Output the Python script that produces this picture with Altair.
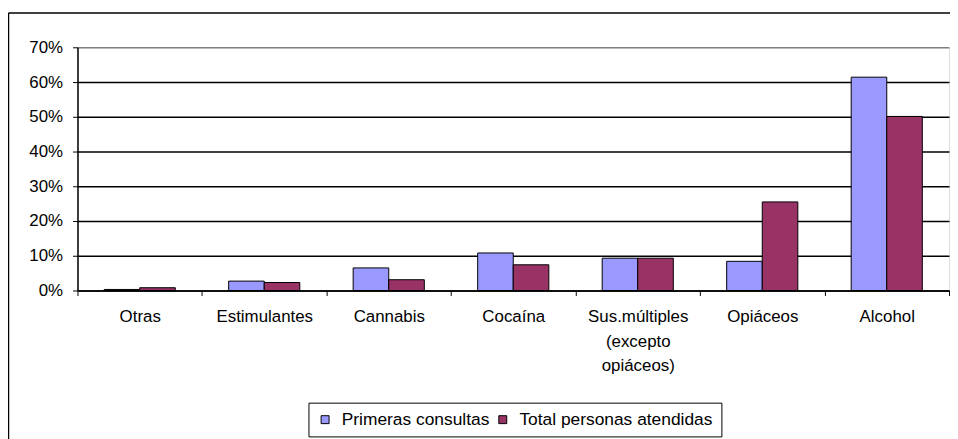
import altair as alt
import pandas as pd

categories = ["Otras", "Estimulantes", "Cannabis", "Cocaína",
              "Sus.múltiples (excepto opiáceos)", "Opiáceos", "Alcohol"]
series = ["Primeras consultas", "Total personas atendidas"]
primeras = [0.3, 2.7, 6.5, 10.8, 9.3, 8.4, 61.4]
total = [0.8, 2.3, 3.1, 7.4, 9.3, 25.5, 50.1]
y_ticks = [0, 10, 20, 30, 40, 50, 60, 70]
colors = ["#9999FF", "#993366"]

rows = []
for c, p, t in zip(categories, primeras, total):
    rows.append({"Categoria": c, "Serie": series[0], "Valor": p})
    rows.append({"Categoria": c, "Serie": series[1], "Valor": t})
df = pd.DataFrame(rows)

FONT = "Liberation Sans"

bars = alt.Chart(df).mark_bar(stroke="black", strokeWidth=1).encode(
    x=alt.X(
        "Categoria:N", sort=categories,
        scale=alt.Scale(paddingInner=0, paddingOuter=0),
        axis=alt.Axis(
            title=None, labelAngle=0, tickBand="extent",
            labelExpr="split(datum.label, ' ')", labelLineHeight=25,
            labelFontSize=17, labelFont=FONT, labelColor="black",
            domainColor="black", domainWidth=1.5, tickColor="black",
            tickSize=5, labelPadding=13, grid=False, labelLimit=300,
        ),
    ),
    xOffset=alt.XOffset("Serie:N", sort=series,
                        scale=alt.Scale(paddingOuter=0.75, paddingInner=0)),
    y=alt.Y(
        "Valor:Q",
        scale=alt.Scale(domain=[0, 70], nice=False),
        axis=alt.Axis(
            title=None, values=y_ticks, labelExpr="datum.value + '%'",
            labelFontSize=17, labelFont=FONT, labelColor="black",
            domainColor="black", domainWidth=1.5, tickColor="black",
            tickSize=5, labelPadding=10, grid=True,
            gridColor=alt.condition("datum.value >= 70", alt.value("#808080"), alt.value("black")),
            gridWidth=1.5,
        ),
    ),
    color=alt.Color(
        "Serie:N", sort=series,
        scale=alt.Scale(domain=series, range=colors),
        legend=alt.Legend(
            title=None, orient="none", legendX=232.7, legendY=358,
            direction="horizontal", strokeColor="black", fillColor="white",
            padding=8, symbolType="square", symbolSize=64,
            symbolStrokeColor="black", symbolStrokeWidth=1,
            labelFontSize=17.5, labelFont=FONT, labelColor="black",
            labelLimit=400, columnPadding=4, labelOffset=8,
        ),
    ),
)

border = alt.Chart(alt.Data(values=[{}])).mark_rule(color="black", strokeWidth=1.5).encode(
    x=alt.value(-69.5), y=alt.value(-34.5), y2=alt.value(400)
)
border_top = alt.Chart(alt.Data(values=[{}])).mark_rule(color="black", strokeWidth=1.5).encode(
    x=alt.value(-69.5), x2=alt.value(879), y=alt.value(-34.5)
)

chart = alt.layer(bars, border, border_top).properties(
    width=878, height=245,
    autosize=alt.AutoSizeParams(type="none"),
    padding={"left": 70, "top": 38, "right": 1, "bottom": 148},
    background="white",
).configure_view(
    fill="#C0C0C0", stroke="#808080", strokeWidth=2
).configure(font=FONT)

chart.save("out.html", embed_options={"renderer": "svg", "actions": False})
